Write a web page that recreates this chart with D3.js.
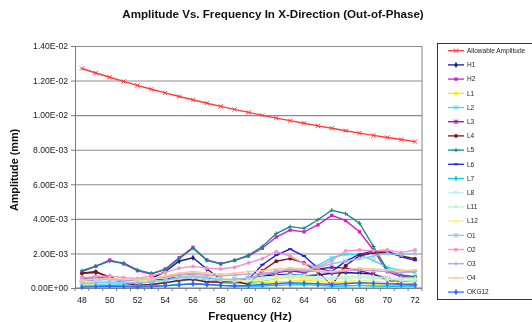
<!DOCTYPE html>
<html>
<head>
<meta charset="utf-8">
<script src="https://cdn.jsdelivr.net/npm/d3@7"></script>
<style>
  body { margin: 0; background: #fff; }
  svg { display: block; font-family: Arial, "Liberation Sans", sans-serif; filter: blur(0.4px); }
</style>
</head>
<body>
<div id="chart"></div>
<script>
// amplitudes in units of 1E-03 mm, one value per Hz from 48 to 72
const freqs = [48,49,50,51,52,53,54,55,56,57,58,59,60,61,62,63,64,65,66,67,68,69,70,71,72];
const yTicks = [0, 2, 4, 6, 8, 10, 12, 14];
const xLabels = [48,50,52,54,56,58,60,62,64,66,68,70,72];

const allowable = [12.70,12.44,12.19,11.95,11.72,11.50,11.29,11.08,10.89,10.69,10.51,10.33,10.16,9.99,9.83,9.68,9.53,9.38,9.24,9.10,8.96,8.83,8.71,8.59,8.47];
const h1    = [0.85,0.90,0.65,0.30,0.20,0.55,0.95,1.55,1.75,1.10,0.50,0.35,0.55,0.70,0.75,0.80,0.70,0.75,0.85,0.90,0.85,0.80,0.45,0.20,0.15];
const h2    = [0.95,1.25,1.62,1.40,1.00,0.80,1.10,1.75,2.35,1.62,1.40,1.60,1.85,2.30,2.95,3.35,3.25,3.65,4.20,3.90,3.25,2.20,0.95,0.65,0.65];
const l1    = [0.30,0.35,0.30,0.25,0.30,0.40,0.55,0.60,0.70,0.55,0.40,0.30,0.25,0.30,0.35,0.40,0.45,0.40,0.30,0.35,0.30,0.20,0.15,0.15,0.20];
const l2    = [0.15,0.20,0.25,0.20,0.15,0.20,0.30,0.40,0.50,0.40,0.30,0.25,0.30,0.40,0.55,0.65,0.80,1.30,1.75,1.95,1.90,1.60,1.20,1.00,0.90];
const l3    = [0.55,0.60,0.55,0.45,0.40,0.45,0.50,0.55,0.60,0.50,0.45,0.50,0.55,0.70,0.90,1.00,0.90,1.10,1.20,1.15,1.00,0.80,0.55,0.35,0.30];
const l4    = [0.85,0.95,0.60,0.30,0.15,0.20,0.30,0.45,0.50,0.35,0.35,0.40,0.20,1.00,1.55,1.70,1.45,0.95,0.15,1.30,1.85,2.05,2.05,1.85,1.70];
const l5    = [1.00,1.27,1.55,1.45,1.05,0.85,1.05,1.70,2.30,1.60,1.40,1.60,1.90,2.40,3.15,3.55,3.45,3.95,4.50,4.30,3.75,2.40,1.05,0.75,0.65];
const l6    = [0.40,0.45,0.50,0.35,0.30,0.35,0.50,0.70,0.80,0.60,0.40,0.35,0.50,1.35,1.90,2.25,1.85,1.15,0.95,1.55,1.95,2.15,2.15,1.80,1.60];
const l7    = [0.10,0.12,0.15,0.12,0.10,0.12,0.15,0.20,0.25,0.20,0.15,0.12,0.10,0.12,0.15,0.18,0.20,0.15,0.10,0.12,0.15,0.12,0.10,0.10,0.12];
const l8    = [0.35,0.40,0.45,0.40,0.35,0.40,0.45,0.55,0.60,0.50,0.45,0.40,0.45,0.50,0.60,0.65,0.60,0.55,0.50,0.55,0.60,0.55,0.50,0.45,0.45];
const l11   = [0.45,0.50,0.55,0.50,0.45,0.50,0.60,0.70,0.75,0.65,0.55,0.50,0.55,0.60,0.70,0.75,0.70,0.65,0.60,0.65,0.70,0.65,0.60,0.55,0.55];
const l12   = [0.20,0.25,0.30,0.30,0.35,0.50,0.70,0.80,0.85,0.70,0.55,0.45,0.40,0.45,0.55,0.60,0.55,0.45,0.35,0.40,0.45,0.40,0.35,0.30,0.35];
const o1    = [0.25,0.30,0.35,0.30,0.30,0.35,0.45,0.60,0.70,0.60,0.50,0.50,0.60,0.75,0.95,1.10,1.05,1.20,1.40,1.55,1.70,1.85,2.00,1.90,2.00];
const o2    = [0.60,0.65,0.70,0.60,0.55,0.70,0.90,1.15,1.25,1.15,1.10,1.20,1.45,1.70,2.10,1.85,1.40,1.20,1.60,2.15,2.20,2.15,2.20,2.05,2.20];
const o3    = [0.50,0.55,0.50,0.45,0.50,0.55,0.65,0.75,0.85,0.75,0.70,0.75,0.80,0.85,0.95,1.05,1.00,0.95,0.90,1.00,1.05,1.00,0.95,0.90,0.95];
const o4    = [0.45,0.50,0.55,0.50,0.50,0.55,0.70,0.85,0.95,0.85,0.80,0.85,0.95,1.00,1.10,1.15,1.10,1.00,0.95,1.05,1.15,1.10,1.05,1.00,1.05];
const okg12 = [0.05,0.08,0.10,0.08,0.06,0.08,0.12,0.18,0.25,0.20,0.15,0.12,0.15,0.20,0.25,0.30,0.28,0.25,0.20,0.25,0.30,0.28,0.25,0.22,0.20];

const seriesNames = ["Allowable Amplitude","H1","H2","L1","L2","L3","L4","L5","L6","L7","L8","L11","L12","O1","O2","O3","O4","OKG12"];
const seriesValues = [allowable,h1,h2,l1,l2,l3,l4,l5,l6,l7,l8,l11,l12,o1,o2,o3,o4,okg12];

// styles (Excel 2003 palette order)
const colors = ["#ff3a3a","#1a1a8c","#d020c8","#f2f200","#30e0f0","#8a1a8a","#861010","#108a88","#2020e0",
                "#10c8f8","#b8f0f4","#c8f0c8","#f4f078","#90c4f8","#f890c4","#c09cf4","#f8c890","#3366ff"];
const shapes = ["x","diamond","square","triangle","x","star","circle","plus","dash",
                "diamond","square","triangle","x","star","circle","plus","dash","diamond"];

const W = 532, H = 322;
const L = 75, R = 422, T = 46, B = 288;

const svg = d3.select("#chart").append("svg").attr("width", W).attr("height", H);

const x = d3.scaleBand().domain(freqs).range([L, R]).padding(0);
const y = d3.scaleLinear().domain([0, 14]).range([B, T]);
const cx = f => x(f) + x.bandwidth() / 2;

const fmtE = v => {
  if (v === 0) return "0.00E+00";
  const [m, e] = (v * 1e-3).toExponential(2).split("e");
  const n = +e;
  return m + "E" + (n < 0 ? "-" : "+") + String(Math.abs(n)).padStart(2, "0");
};

// gridlines
svg.append("g")
  .attr("transform", `translate(${L},0)`)
  .call(d3.axisLeft(y).tickValues(yTicks).tickSize(-(R - L)).tickFormat(""))
  .call(g => g.select(".domain").remove())
  .call(g => g.selectAll("line").attr("stroke", "#8c8c8c").attr("stroke-width", 1.1));

// plot border right
svg.append("line").attr("x1", R).attr("x2", R).attr("y1", T).attr("y2", B)
  .attr("stroke", "#8c8c8c").attr("stroke-width", 1.1);

// y axis
svg.append("g")
  .attr("transform", `translate(${L},0)`)
  .call(d3.axisLeft(y).tickValues(yTicks).tickSize(4).tickPadding(3).tickFormat(fmtE))
  .call(g => g.select(".domain").attr("stroke", "#7a7a7a"))
  .call(g => g.selectAll("line").attr("stroke", "#7a7a7a"))
  .call(g => g.selectAll("text").attr("font-size", 8.6).attr("fill", "#222").attr("font-family", "Arial, 'Liberation Sans', sans-serif"));

// x axis
const xa = svg.append("g").attr("transform", `translate(0,${B})`);
xa.append("line").attr("x1", L).attr("x2", R).attr("stroke", "#7a7a7a");
xa.selectAll("line.tk")
  .data(freqs.concat(["end"]))
  .join("line")
    .attr("class", "tk")
    .attr("x1", d => d === "end" ? R : x(d))
    .attr("x2", d => d === "end" ? R : x(d))
    .attr("y1", 0).attr("y2", 3)
    .attr("stroke", "#7a7a7a");
xa.selectAll("text")
  .data(xLabels)
  .join("text")
    .attr("x", d => cx(d))
    .attr("y", 14.5)
    .attr("text-anchor", "middle")
    .attr("font-size", 8.6)
    .attr("fill", "#222")
    .text(d => d);

// symbols
function marker(g, shape, color, px, py) {
  const s = 2.1;
  if (shape === "x") {
    g.append("path").attr("d", `M${px-s},${py-s}L${px+s},${py+s}M${px-s},${py+s}L${px+s},${py-s}`)
      .attr("stroke", color).attr("stroke-width", 1).attr("fill", "none");
  } else if (shape === "plus") {
    g.append("path").attr("d", `M${px-s},${py}L${px+s},${py}M${px},${py-s}L${px},${py+s}`)
      .attr("stroke", color).attr("stroke-width", 1).attr("fill", "none");
  } else if (shape === "star") {
    g.append("path").attr("d", `M${px-s},${py-s}L${px+s},${py+s}M${px-s},${py+s}L${px+s},${py-s}M${px},${py-s}L${px},${py+s}`)
      .attr("stroke", color).attr("stroke-width", 1).attr("fill", "none");
  } else if (shape === "dash") {
    g.append("path").attr("d", `M${px-s},${py}L${px+s},${py}`)
      .attr("stroke", color).attr("stroke-width", 1.8).attr("fill", "none");
  } else {
    const type = { diamond: d3.symbolDiamond, square: d3.symbolSquare, triangle: d3.symbolTriangle, circle: d3.symbolCircle }[shape];
    g.append("path").attr("d", d3.symbol(type, 11)()).attr("transform", `translate(${px},${py})`)
      .attr("fill", color);
  }
}

const line = d3.line().x((d, i) => cx(freqs[i])).y(d => y(d));

// draw series; the allowable line last so it sits on top
const order = d3.range(1, seriesNames.length).concat([0]);
order.forEach(k => {
  const g = svg.append("g");
  g.append("path")
    .attr("d", line(seriesValues[k]))
    .attr("fill", "none")
    .attr("stroke", colors[k])
    .attr("stroke-width", 1.4);
  seriesValues[k].forEach((v, i) => marker(g, shapes[k], colors[k], cx(freqs[i]), y(v)));
});

// title and axis titles
svg.append("text").attr("x", 273).attr("y", 18).attr("text-anchor", "middle")
  .attr("font-size", 11.6).attr("font-weight", "bold").attr("fill", "#111")
  .text("Amplitude Vs. Frequency In X-Direction (Out-of-Phase)");
svg.append("text").attr("transform", "translate(18,170) rotate(-90)").attr("text-anchor", "middle")
  .attr("font-size", 10.8).attr("font-weight", "bold").attr("fill", "#111")
  .text("Amplitude (mm)");
svg.append("text").attr("x", 250).attr("y", 320).attr("text-anchor", "middle")
  .attr("font-size", 11.6).attr("font-weight", "bold").attr("fill", "#111")
  .text("Frequency (Hz)");

// legend
const lg = svg.append("g");
lg.append("rect").attr("x", 437.5).attr("y", 43.5).attr("width", 110).attr("height", 256)
  .attr("fill", "#fff").attr("stroke", "#333").attr("stroke-width", 1);
seriesNames.forEach((name, k) => {
  const ly = 50.7 + k * 14.2;
  lg.append("line").attr("x1", 448).attr("x2", 464).attr("y1", ly).attr("y2", ly)
    .attr("stroke", colors[k]).attr("stroke-width", 1.3);
  marker(lg, shapes[k], colors[k], 456, ly);
  lg.append("text").attr("x", 467).attr("y", ly + 2.2).attr("font-size", 6.5).attr("fill", "#222").text(name);
});
</script>
</body>
</html>
